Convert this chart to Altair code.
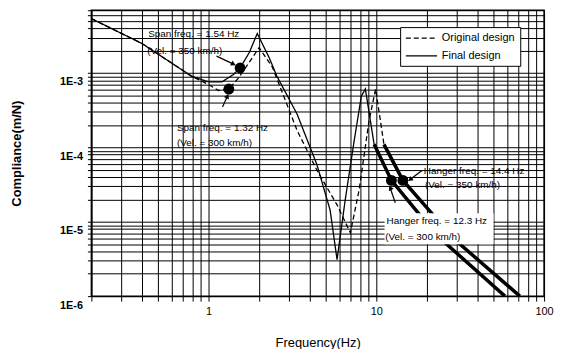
import altair as alt
import pandas as pd

# ---------------- data ----------------
final_f = [0.2, 0.4, 0.79, 1.0, 1.2, 1.4, 1.54, 1.75, 1.95, 2.3, 2.55, 3.37, 4.43,
           5.3, 5.83, 6.52, 7.38, 8.14, 8.6, 9.7, 12.3, 17.6, 25.5, 58.4]
final_c = [5.4e-3, 2.5e-3, 9.1e-4, 7.6e-4, 7.6e-4, 9.5e-4, 1.17e-3, 1.9e-3, 3.4e-3,
           1.6e-3, 9.1e-4, 2.8e-4, 5.8e-5, 1.44e-5, 3.1e-6, 1.96e-5, 1.24e-4, 4.9e-4,
           6.1e-4, 1.1e-4, 3.6e-5, 1.35e-5, 5.3e-6, 1.0e-6]

orig_f = [0.2, 0.4, 0.79, 1.0, 1.15, 1.32, 1.5, 1.75, 2.0, 2.4, 3.37, 4.43, 5.83,
          7.0, 7.9, 9.05, 9.9, 11.1, 14.4, 21.1, 30.6, 71.7]
orig_c = [5.4e-3, 2.5e-3, 9.1e-4, 7.0e-4, 5.8e-4, 6.1e-4, 8.5e-4, 1.4e-3, 2.2e-3,
          1.2e-3, 1.69e-4, 4.9e-5, 1.69e-5, 7.1e-6, 2.7e-5, 2.3e-4, 6.1e-4, 1.1e-4,
          3.6e-5, 1.35e-5, 5.3e-6, 1.0e-6]

series_names = ["Original design", "Final design"]
tail_start = {"Original design": 11.1, "Final design": 9.7}

marker_f = [1.54, 1.32, 12.3, 14.4]
marker_c = [1.17e-3, 6.1e-4, 3.6e-5, 3.6e-5]

label_text = ["Span freq. = 1.54 Hz", "(Vel. = 350 km/h)",
              "Span freq. = 1.32 Hz", "(Vel. = 300 km/h)",
              "Hanger freq. = 14.4 Hz", "(Vel. = 350 km/h)",
              "Hanger freq. = 12.3 Hz", "(Vel. = 300 km/h)"]
label_f = [0.436, 0.43, 0.647, 0.647, 19.2, 19.5, 11.5, 11.3]
label_c = [3.3e-3, 1.97e-3, 1.85e-4, 1.13e-4, 4.8e-5, 3.1e-5, 1.03e-5, 6.3e-6]

# white box behind the 12.3 Hz note (it hides the curves there)
box_f = [11.2]
box_f2 = [50.0]
box_c = [1.3e-5]
box_c2 = [5.0e-6]

arrow_f1 = [1.115, 1.21, 18.7, 12.96]
arrow_c1 = [1.69e-3, 3.5e-4, 4.9e-5, 1.8e-5]
arrow_f2 = [1.406, 1.295, 15.9, 12.1]
arrow_c2 = [1.32e-3, 4.9e-4, 3.7e-5, 2.85e-5]
arrow_angle = [116.6, 26.6, 232.4, 333.4]

x_ticks = [round(k * 10.0 ** e, 6) for e in (-1, 0, 1) for k in range(1, 10) if k * 10.0 ** e >= 0.2] + [100]
y_ticks = [k * 10.0 ** e for e in (-6, -5, -4, -3) for k in range(1, 10) if k * 10.0 ** e <= 7.05e-3]

# ---------------- tables ----------------
rows = []
for name, fs, cs in (("Original design", orig_f, orig_c), ("Final design", final_f, final_c)):
    for f, c in zip(fs, cs):
        rows.append({"series": name, "f": f, "c": c})
curves = pd.DataFrame(rows)
thin = curves[curves.apply(lambda r: r["f"] <= tail_start[r["series"]], axis=1)]
thick = curves[curves.apply(lambda r: r["f"] >= tail_start[r["series"]], axis=1)]

markers = pd.DataFrame({"f": marker_f, "c": marker_c})
labels = pd.DataFrame({"t": label_text, "f": label_f, "c": label_c})
arrows = pd.DataFrame({"f": arrow_f1, "c": arrow_c1, "fe": arrow_f2, "ce": arrow_c2, "a": arrow_angle})
boxes = pd.DataFrame({"f": box_f, "fe": box_f2, "c": box_c, "ce": box_c2})

FONT = "Liberation Sans"
XT = "Frequency(Hz)"
YT = "Compliance(m/N)"
xs = alt.Scale(type="log", domain=[0.2, 100], nice=False)
ys = alt.Scale(type="log", domain=[1e-6, 7e-3], nice=False)

x_axis = alt.Axis(values=x_ticks,
                  labelExpr="(datum.value==1||datum.value==10||datum.value==100) ? toString(datum.value) : ''",
                  grid=True, gridColor="#000", gridWidth=1, tickColor="#000", tickSize=5,
                  domainColor="#000", labelFontSize=11, labelPadding=5, labelFlush=False,
                  labelOverlap=False, labelColor="#000", titleFontSize=13,
                  titleFontWeight="normal", titlePadding=20, titleColor="#000")
y_axis = alt.Axis(values=y_ticks,
                  labelExpr="abs(log(datum.value)/LN10 - round(log(datum.value)/LN10)) < 0.001 ? '1E' + round(log(datum.value)/LN10) : ''",
                  grid=True, gridColor="#000", gridWidth=1, tickColor="#000", tickSize=4,
                  domainColor="#000", labelFontSize=11, labelFontWeight="bold", labelPadding=5,
                  labelOverlap=False, labelColor="#000", labelOffset=9, labelFlush=False,
                  titleFontSize=13, titleFontWeight="bold",
                  titlePadding=36, titleColor="#000")

thin_layer = alt.Chart(thin).mark_line(color="#000", strokeWidth=1.3, clip=True).encode(
    x=alt.X("f:Q", scale=xs, axis=x_axis, title=XT),
    y=alt.Y("c:Q", scale=ys, axis=y_axis, title=YT),
    strokeDash=alt.StrokeDash("series:N",
                              scale=alt.Scale(domain=series_names, range=[[5, 3], [1, 0]]),
                              sort=series_names,
                              legend=alt.Legend(title=None, orient="none", legendX=311, legendY=17)),
    order="f:Q",
)

thick_layer = alt.Chart(thick).mark_line(color="#000", strokeWidth=3.5, clip=True).encode(
    x=alt.X("f:Q", scale=xs, title=XT),
    y=alt.Y("c:Q", scale=ys, title=YT),
    detail="series:N",
    order="f:Q",
)

box_layer = alt.Chart(boxes).mark_rect(color="#fff", opacity=1).encode(
    x=alt.X("f:Q", scale=xs, title=XT),
    y=alt.Y("c:Q", scale=ys, title=YT),
    x2="fe:Q",
    y2="ce:Q",
)

marker_layer = alt.Chart(markers).mark_circle(color="#000", size=120, opacity=1).encode(
    x=alt.X("f:Q", scale=xs, title=XT),
    y=alt.Y("c:Q", scale=ys, title=YT),
)

arrow_layer = alt.Chart(arrows).mark_rule(color="#000", strokeWidth=1.2).encode(
    x=alt.X("f:Q", scale=xs, title=XT),
    y=alt.Y("c:Q", scale=ys, title=YT),
    x2="fe:Q",
    y2="ce:Q",
)

head_layer = alt.Chart(arrows).mark_point(shape="triangle-up", filled=True, color="#000",
                                          size=30, opacity=1).encode(
    x=alt.X("fe:Q", scale=xs, title=XT),
    y=alt.Y("ce:Q", scale=ys, title=YT),
    angle=alt.Angle("a:Q", scale=None),
)

text_layer = alt.Chart(labels).mark_text(align="left", baseline="middle", fontSize=10,
                                         font=FONT, color="#000").encode(
    x=alt.X("f:Q", scale=xs, title=XT),
    y=alt.Y("c:Q", scale=ys, title=YT),
    text="t:N",
)

chart = alt.layer(thin_layer, thick_layer, box_layer, marker_layer, arrow_layer, head_layer,
                  text_layer).properties(
    width=456, height=288,
    autosize=alt.AutoSizeParams(type="none"),
    padding={"left": 84, "top": 1, "right": 10, "bottom": 52},
).configure(font=FONT).configure_view(
    stroke="#000", strokeWidth=1.5
).configure_legend(
    fillColor="#fff", strokeColor="#000", padding=5, symbolType="M-1,0H5", symbolSize=110,
    symbolStrokeWidth=1.3, symbolStrokeColor="#000", labelFontSize=11, labelColor="#000",
    rowPadding=7, labelOffset=25, labelFont=FONT,
)

chart.save("out.html", embed_options={"renderer": "svg", "actions": False})
